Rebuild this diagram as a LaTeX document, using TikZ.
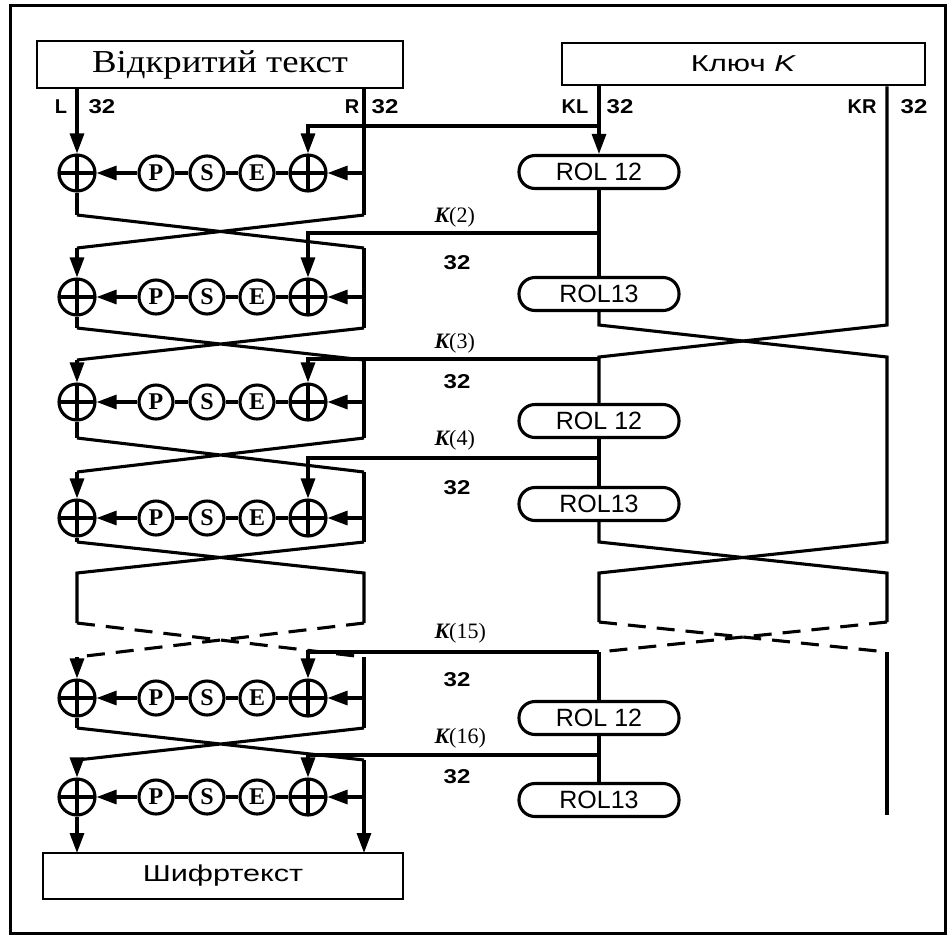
\documentclass[tikz,border=0pt]{standalone}
\usepackage{fontspec}
\usepackage{graphicx}
\setmainfont{Liberation Serif}
\newfontfamily\sansf{Liberation Sans}
\usetikzlibrary{arrows.meta}
\newcommand\Klab[1]{{\bfseries\itshape K}(#1)}
\begin{document}
\begin{tikzpicture}[x=1pt,y=-1pt,line width=3.1pt,line join=miter,
  arr/.style={-{Triangle[length=20pt,width=14pt]}},
  dsh/.style={dash pattern=on 18pt off 11pt},
  xor/.style={circle,draw,minimum size=36pt,inner sep=0pt,
    path picture={\draw[line width=3.1pt] (path picture bounding box.north) -- (path picture bounding box.south)
      (path picture bounding box.west) -- (path picture bounding box.east);}},
  fn/.style={circle,draw,minimum size=34pt,inner sep=0pt,font=\fontsize{24}{24}\selectfont\bfseries},
  rol/.style={draw,rounded corners=16pt,minimum width=160pt,minimum height=33pt,inner sep=0pt,
    font=\sansf\fontsize{25}{25}\selectfont},
  tbox/.style={draw,line width=2.6pt,inner sep=0pt},
  lab/.style={inner sep=0pt,font=\sansf\bfseries\fontsize{20}{20}\selectfont},
  klab/.style={inner sep=0pt,anchor=west,font=\fontsize{22}{22}\selectfont}]
\useasboundingbox (0,0) rectangle (949,935);
\draw[line width=3pt] (10,5) rectangle (945,933);
% boxes
\node[tbox,minimum width=366pt,minimum height=47pt] (pbox) at (220,64.5)
  {\scalebox{1.15}[1]{\fontsize{32}{32}\selectfont Відкритий текст}};
\node[tbox,minimum width=363pt,minimum height=42pt] (kbox) at (743.5,64)
  {\scalebox{1.35}[1]{\sansf\fontsize{23}{23}\selectfont Ключ \textit{K}}};
\node[tbox,minimum width=360pt,minimum height=46pt] (cbox) at (223,876)
  {\scalebox{1.33}[1]{\sansf\fontsize{23}{23}\selectfont Шифртекст}};
% top labels
\node[lab] (lL) at (61,107) {L};
\node[lab] (l32a) at (102,107) {\scalebox{1.2}[1]{32}};
\node[lab] (lR) at (352,107) {R};
\node[lab] (l32b) at (385,107) {\scalebox{1.2}[1]{32}};
\node[lab] (lKL) at (575,107) {KL};
\node[lab] (l32c) at (620,107) {\scalebox{1.2}[1]{32}};
\node[lab] (lKR) at (862,107) {KR};
\node[lab] (l32d) at (914,107) {\scalebox{1.2}[1]{32}};
% rounds
\foreach \i/\yt/\yc/\yb/\yk in {1/88/173/215/126,2/248/297/328/233,3/360/402/438/359,4/472/518/542/458,5/657/698/728/652,6/760/797/853/755}{
  \node[xor] (xl\i) at (77,\yc) {};
  \node[xor] (xr\i) at (308,\yc) {};
  \node[fn] (e\i) at (257,\yc) {E};
  \node[fn] (s\i) at (207,\yc) {S};
  \node[fn] (p\i) at (156,\yc) {P};
  \coordinate (lt\i) at (77,\yt);
  \coordinate (lb\i) at (77,\yb);
  \coordinate (rt\i) at (364,\yt);
  \coordinate (rb\i) at (364,\yb);
  \coordinate (rm\i) at (364,\yc);
  \coordinate (kj\i) at (599,\yk);
  \coordinate (kc\i) at (308,\yk);
  \draw[arr] (lt\i) -- (xl\i);
  \ifnum\i<6
    \draw (xl\i) -- (lb\i);
    \draw (rt\i) -- (rb\i);
  \else
    \draw[arr] (xl\i) -- (lb\i);
    \draw[arr] (rt\i) -- (rb\i);
  \fi
  \draw[arr] (rm\i) -- (xr\i);
  \draw (xr\i) -- (e\i) -- (s\i) -- (p\i);
  \draw[arr] (p\i) -- (xl\i);
  \draw[arr] (kj\i) -- (kc\i) -- (xr\i);
}
% left crossings
\draw (lb1) -- (rt2) (rb1) -- (lt2);
\draw (lb2) -- (rt3) (rb2) -- (lt3);
\draw (lb3) -- (rt4) (rb3) -- (lt4);
\coordinate (g1) at (77,573);
\coordinate (g2) at (364,573);
\coordinate (g3) at (77,623);
\coordinate (g4) at (364,623);
\draw (lb4) -- (g2) -- (g4) (rb4) -- (g1) -- (g3);
\draw[dsh] (g3) -- (rt5) (g4) -- (lt5);
\draw (lb5) -- (rt6) (rb5) -- (lt6);
% key labels
\node[klab] (k2) at (433,217) {\Klab{2}};
\node[klab] (k3) at (433,343) {\Klab{3}};
\node[klab] (k4) at (433,440) {\Klab{4}};
\node[klab] (k15) at (433,633) {\Klab{15}};
\node[klab] (k16) at (433,738) {\Klab{16}};
\node[lab] (n2) at (457,263) {\scalebox{1.2}[1]{32}};
\node[lab] (n3) at (457,382) {\scalebox{1.2}[1]{32}};
\node[lab] (n4) at (457,488) {\scalebox{1.2}[1]{32}};
\node[lab] (n15) at (457,680) {\scalebox{1.2}[1]{32}};
\node[lab] (n16) at (457,777) {\scalebox{1.2}[1]{32}};
% key schedule
\node[rol] (r1) at (599,172) {ROL 12};
\node[rol] (r2) at (599,294) {ROL13};
\node[rol] (r3) at (599,421) {ROL 12};
\node[rol] (r4) at (599,504) {ROL13};
\node[rol] (r5) at (599,718) {ROL 12};
\node[rol] (r6) at (599,800) {ROL13};
\coordinate (ka1) at (599,325);
\coordinate (kb1) at (887,325);
\coordinate (ka2) at (599,357);
\coordinate (kb2) at (887,357);
\coordinate (ka3) at (599,542);
\coordinate (kb3) at (887,542);
\coordinate (ka4) at (599,573);
\coordinate (kb4) at (887,573);
\coordinate (ka5) at (599,622);
\coordinate (kb5) at (887,622);
\coordinate (ka6) at (599,652);
\coordinate (kb6) at (887,652);
\coordinate (kend) at (887,815);
\draw[arr] (kbox.south -| r1) -- (r1);
\draw (r1) -- (r2);
\draw (r2) -- (ka1) -- (kb2) -- (kb3) -- (ka4) -- (ka5);
\draw (kbox.south -| kb1) -- (kb1) -- (ka2) -- (r3);
\draw (r3) -- (r4);
\draw (r4) -- (ka3) -- (kb4) -- (kb5);
\draw[dsh] (ka5) -- (kb6) (kb5) -- (ka6);
\draw (ka6) -- (r5);
\draw (r5) -- (r6);
\draw (kb6) -- (kend);
\end{tikzpicture}
\end{document}
